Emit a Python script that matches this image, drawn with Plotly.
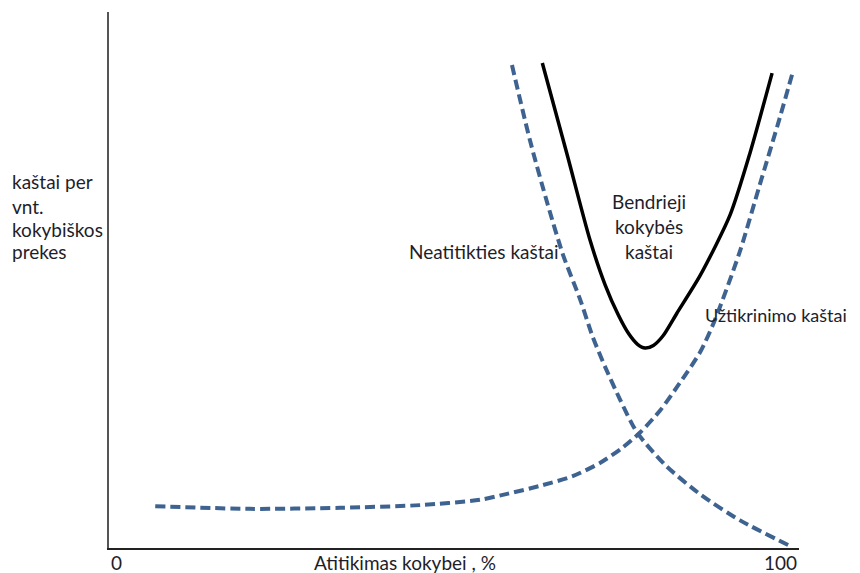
import plotly.graph_objects as go

# Neatitikties kaštai (failure costs), decreasing
neat_x = [58.4, 61.0, 63.6, 65.8, 68.3, 70.1, 71.9, 74.1, 76.5, 80.6, 85.8, 91.4, 99.0]
neat_y = [90.1, 76.1, 64.0, 54.7, 46.3, 39.4, 33.8, 27.6, 21.6, 15.5, 9.9, 5.2, 0.2]

# Užtikrinimo kaštai (assurance costs), increasing
uzt_x = [6.7, 20.4, 33.5, 45.1, 53.8, 57.7, 62.5, 67.2, 71.2, 74.5, 77.0, 79.9, 82.3,
         85.7, 87.8, 91.4, 94.3, 97.2, 99.1]
uzt_y = [7.8, 7.3, 7.5, 8.0, 9.0, 10.1, 11.6, 13.4, 15.9, 18.8, 21.6, 25.7, 30.0,
         36.6, 42.5, 55.2, 67.7, 80.2, 88.8]

# Bendrieji kokybės kaštai (total), U-shaped
tot_x = [62.8, 66.5, 69.7, 71.9, 73.8, 75.3, 76.6, 77.7, 78.9, 80.3, 82.3, 85.7, 90.0, 92.9, 96.1]
tot_y = [90.5, 72.9, 57.5, 49.1, 43.5, 40.0, 38.0, 37.3, 37.8, 39.6, 43.8, 50.9, 62.1, 73.7, 88.6]

ylabel_lines = ["kaštai per", "vnt.", "kokybiškos", "prekes"]
total_label_lines = ["Bendrieji", "kokybės", "kaštai"]

OFF = 8  # page body margin
W, H = 860 - OFF, 573 - OFF
L, R, T, B = 109, 799, 12, 548  # plot area in window pixels

def fx(px):
    return (px - L) / (R - L)

def fy(py):
    return (B - py) / (B - T)

BLUE = "#3E6390"
TXT = "#1e1e2a"
FONT = "Lato"
FS = 19

fig = go.Figure()
fig.add_trace(go.Scatter(x=neat_x, y=neat_y, mode="lines",
                         line=dict(color=BLUE, width=4, dash="10px,5px", shape="spline", smoothing=0.7),
                         hoverinfo="skip"))
fig.add_trace(go.Scatter(x=uzt_x, y=uzt_y, mode="lines",
                         line=dict(color=BLUE, width=4, dash="10px,5px", shape="spline", smoothing=0.7),
                         hoverinfo="skip"))
fig.add_trace(go.Scatter(x=tot_x, y=tot_y, mode="lines",
                         line=dict(color="black", width=3.5, shape="spline", smoothing=0.7),
                         hoverinfo="skip"))

ann = []
def add(text, px, py, xanchor="center", size=FS):
    ann.append(dict(text=text, x=fx(px), y=fy(py), xref="paper", yref="paper",
                    xanchor=xanchor, yanchor="middle", showarrow=False,
                    font=dict(family=FONT, size=size, color=TXT)))

for i, t in enumerate(ylabel_lines):
    add(t, 10, [181, 206, 229, 252][i], xanchor="left")
for i, t in enumerate(total_label_lines):
    add(t, 649, [201, 226, 251][i])
add("Neatitikties kaštai", 407, 252, xanchor="left")
add("Užtikrinimo kaštai", 849, 315, xanchor="right", size=18)
add("0", 116, 562)
add("Atitikimas kokybei , %", 405, 562)
add("100", 780, 562)

fig.update_layout(
    width=W, height=H,
    margin=dict(l=L - OFF, r=860 - R, t=T - OFF, b=573 - B, pad=0),
    paper_bgcolor="white", plot_bgcolor="white",
    showlegend=False,
    annotations=ann,
    xaxis=dict(range=[0, 100], showgrid=False, zeroline=False, showticklabels=False,
               ticks="", showline=True, linecolor="#222", linewidth=1.5, fixedrange=True),
    yaxis=dict(range=[0, 100], showgrid=False, zeroline=False, showticklabels=False,
               ticks="", showline=True, linecolor="#555", linewidth=2, fixedrange=True),
)

fig.write_html("out.html")
